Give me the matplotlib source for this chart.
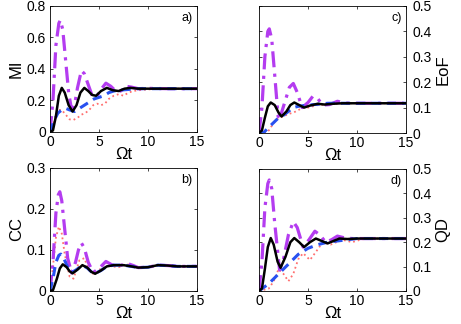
import matplotlib
matplotlib.use("Agg")
import matplotlib.pyplot as plt

plt.rcParams["font.family"] = ["Liberation Sans", "DejaVu Sans"]

# ---------- DATA ----------
# panel a) MI
t_a_purple = [0, 0.3, 0.6, 0.9, 1.05, 1.3, 1.6, 1.9, 2.2, 2.5, 2.8, 3.2, 3.5, 3.9, 4.3, 4.7, 5.2, 5.7, 6.2, 6.7, 7.2, 7.8, 8.3, 9, 10, 12, 15]
a_purple = [0, 0.2, 0.55, 0.69, 0.71, 0.65, 0.45, 0.25, 0.14, 0.17, 0.28, 0.39, 0.37, 0.3, 0.23, 0.22, 0.27, 0.31, 0.29, 0.26, 0.26, 0.29, 0.285, 0.275, 0.277, 0.275, 0.275]
t_a_black = [0, 0.3, 0.6, 0.9, 1.2, 1.5, 1.9, 2.3, 2.7, 3.1, 3.5, 3.9, 4.3, 4.7, 5.2, 5.8, 6.4, 7.0, 7.6, 8.2, 9, 10, 12, 15]
a_black = [0, 0.01, 0.1, 0.23, 0.28, 0.25, 0.17, 0.13, 0.17, 0.25, 0.28, 0.26, 0.235, 0.23, 0.26, 0.28, 0.265, 0.26, 0.275, 0.28, 0.275, 0.275, 0.275, 0.275]
t_a_blue = [0, 0.4, 0.8, 1.2, 1.6, 2.0, 2.5, 3.0, 3.5, 4.0, 4.5, 5.0, 5.5, 6.0, 6.5, 7.0, 8.0, 9.0, 12, 15]
a_blue = [0, 0.07, 0.12, 0.14, 0.15, 0.14, 0.13, 0.15, 0.17, 0.19, 0.21, 0.22, 0.23, 0.25, 0.26, 0.265, 0.27, 0.275, 0.275, 0.275]
t_a_red = [0, 0.3, 0.6, 0.9, 1.2, 1.6, 2.0, 2.4, 2.8, 3.2, 3.6, 4.0, 4.4, 4.8, 5.2, 5.6, 6.0, 6.5, 7.0, 7.5, 8.0, 8.5, 9, 10, 11, 12, 15]
a_red = [0, 0.04, 0.1, 0.14, 0.14, 0.11, 0.08, 0.077, 0.09, 0.11, 0.12, 0.14, 0.17, 0.18, 0.17, 0.18, 0.21, 0.23, 0.24, 0.23, 0.25, 0.26, 0.265, 0.27, 0.275, 0.275, 0.275]

# panel b) CC
t_b_purple = [0, 0.3, 0.6, 0.85, 1.0, 1.2, 1.5, 1.8, 2.2, 2.6, 2.9, 3.2, 3.5, 3.9, 4.4, 5.0, 5.7, 6.3, 6.8, 7.3, 7.8, 8.5, 9, 10, 11, 12, 13, 15]
b_purple = [0, 0.07, 0.19, 0.235, 0.242, 0.22, 0.15, 0.08, 0.044, 0.07, 0.1, 0.117, 0.105, 0.07, 0.045, 0.055, 0.072, 0.064, 0.06, 0.063, 0.068, 0.062, 0.057, 0.058, 0.063, 0.062, 0.06, 0.06]
t_b_black = [0, 0.3, 0.7, 1.0, 1.3, 1.7, 2.0, 2.3, 2.8, 3.3, 3.8, 4.2, 4.6, 5.2, 5.8, 6.5, 7.5, 8.3, 9, 10, 11, 12, 13, 15]
b_black = [0, 0.002, 0.03, 0.055, 0.065, 0.058, 0.048, 0.043, 0.052, 0.063, 0.057, 0.047, 0.042, 0.05, 0.06, 0.063, 0.063, 0.06, 0.057, 0.058, 0.063, 0.062, 0.06, 0.06]
t_b_blue = [0, 0.3, 0.6, 0.9, 1.1, 1.4, 1.8, 2.2, 2.7, 3.3, 3.8, 4.2, 4.6, 5.2, 5.8, 6.5, 7.5, 8.3, 9, 10, 11, 12, 13, 15]
b_blue = [0, 0.03, 0.07, 0.087, 0.09, 0.08, 0.058, 0.045, 0.052, 0.063, 0.056, 0.047, 0.043, 0.05, 0.06, 0.063, 0.063, 0.06, 0.057, 0.058, 0.063, 0.062, 0.06, 0.06]
t_b_red = [0, 0.3, 0.6, 0.9, 1.2, 1.5, 2.0, 2.4, 3.0, 3.5, 4.0, 4.5, 5.0, 5.7, 6.3, 7.0, 7.8, 8.5, 9, 10, 11, 12, 13, 15]
b_red = [0, 0.06, 0.13, 0.157, 0.14, 0.09, 0.035, 0.03, 0.075, 0.08, 0.05, 0.04, 0.05, 0.07, 0.06, 0.058, 0.066, 0.06, 0.057, 0.058, 0.063, 0.062, 0.06, 0.06]

# panel c) EoF
t_c_purple = [0, 0.3, 0.6, 0.9, 1.05, 1.3, 1.6, 1.95, 2.3, 2.7, 3.1, 3.5, 3.9, 4.4, 5.0, 5.5, 6.0, 6.5, 7.2, 8.0, 8.7, 9.5, 12, 15]
c_purple = [0, 0.1, 0.3, 0.4, 0.41, 0.37, 0.23, 0.065, 0.08, 0.13, 0.18, 0.195, 0.16, 0.1, 0.12, 0.145, 0.135, 0.11, 0.112, 0.125, 0.118, 0.117, 0.117, 0.117]
t_c_black = [0, 0.3, 0.6, 0.9, 1.2, 1.6, 2.0, 2.3, 2.8, 3.2, 3.6, 4.1, 4.6, 5.2, 6.0, 6.7, 7.5, 8.5, 10, 15]
c_black = [0, 0.01, 0.06, 0.105, 0.12, 0.11, 0.08, 0.065, 0.085, 0.11, 0.12, 0.11, 0.1, 0.108, 0.115, 0.112, 0.115, 0.117, 0.117, 0.117]
t_c_blue = [0, 0.5, 0.8, 1.2, 1.6, 2.0, 2.5, 3.0, 3.5, 4.0, 5.0, 6.0, 7.0, 8.0, 10, 15]
c_blue = [0, 0.002, 0.015, 0.03, 0.045, 0.06, 0.07, 0.085, 0.1, 0.105, 0.11, 0.113, 0.117, 0.117, 0.117, 0.117]
t_c_red = [0, 0.5, 1.0, 1.5, 2.0, 2.5, 3.0, 3.5, 4.0, 4.5, 5.0, 5.5, 6.0, 7.0, 8.0, 9.0, 10, 15]
c_red = [0, 0.001, 0.01, 0.04, 0.06, 0.065, 0.075, 0.08, 0.09, 0.1, 0.1, 0.105, 0.11, 0.112, 0.115, 0.117, 0.117, 0.117]

# panel d) QD
t_d_purple = [0, 0.3, 0.6, 0.9, 1.05, 1.3, 1.6, 2.1, 2.5, 3.0, 3.5, 3.9, 4.5, 5.1, 5.7, 6.2, 6.8, 7.4, 8.0, 8.7, 9.5, 12, 15]
d_purple = [0, 0.12, 0.34, 0.44, 0.455, 0.42, 0.28, 0.086, 0.13, 0.23, 0.284, 0.26, 0.18, 0.21, 0.245, 0.23, 0.2, 0.21, 0.225, 0.218, 0.215, 0.215, 0.215]
t_d_black = [0, 0.3, 0.6, 0.9, 1.2, 1.5, 1.9, 2.2, 2.7, 3.2, 3.6, 4.1, 4.6, 5.2, 5.8, 6.4, 7.0, 7.6, 8.2, 9, 10, 12, 15]
d_black = [0, 0.01, 0.09, 0.18, 0.217, 0.19, 0.12, 0.095, 0.14, 0.2, 0.217, 0.2, 0.18, 0.2, 0.215, 0.205, 0.195, 0.205, 0.215, 0.213, 0.215, 0.215, 0.215]
t_d_blue = [0, 1.0, 2.0, 3.0, 4.0, 5.0, 6.0, 7.0, 8.0, 9.0, 10, 12, 15]
d_blue = [0, 0.03, 0.07, 0.11, 0.15, 0.175, 0.19, 0.2, 0.205, 0.21, 0.215, 0.215, 0.215]
t_d_red = [0, 0.5, 1.0, 1.5, 2.0, 2.5, 3.0, 3.5, 4.0, 4.5, 5.2, 5.8, 6.5, 7.3, 8.5, 9.5, 10.5, 12, 15]
d_red = [0, 0.005, 0.01, 0.04, 0.09, 0.07, 0.04, 0.07, 0.13, 0.155, 0.127, 0.16, 0.2, 0.19, 0.21, 0.2, 0.212, 0.215, 0.215]

panels = [
    ("a)", "MI", [0, 0.8], [0, 0.2, 0.4, 0.6, 0.8], "left",
     (t_a_black, a_black), (t_a_blue, a_blue), (t_a_red, a_red), (t_a_purple, a_purple)),
    ("b)", "CC", [0, 0.3], [0, 0.1, 0.2, 0.3], "left",
     (t_b_black, b_black), (t_b_blue, b_blue), (t_b_red, b_red), (t_b_purple, b_purple)),
    ("c)", "EoF", [0, 0.5], [0, 0.1, 0.2, 0.3, 0.4, 0.5], "right",
     (t_c_black, c_black), (t_c_blue, c_blue), (t_c_red, c_red), (t_c_purple, c_purple)),
    ("d)", "QD", [0, 0.5], [0, 0.1, 0.2, 0.3, 0.4, 0.5], "right",
     (t_d_black, d_black), (t_d_blue, d_blue), (t_d_red, d_red), (t_d_purple, d_purple)),
]

rects = {
    "a)": [0.1085, 0.5926, 0.319, 0.389],
    "b)": [0.1085, 0.1019, 0.319, 0.3796],
    "c)": [0.5618, 0.5895, 0.319, 0.392],
    "d)": [0.5618, 0.1019, 0.319, 0.3765],
}

fig = plt.figure(figsize=(4.61, 3.24), dpi=100)

for tag, ylab, ylim, yticks, side, blk, blu, red, pur in panels:
    ax = fig.add_axes(rects[tag])
    ax.plot(*red, color="#ff6f6f", ls=":", lw=1.3)
    ax.plot(*pur, color="#b43cf0", ls=(0, (5, 2, 1, 2)), lw=2.3)
    ax.plot(*blu, color="#2850f0", ls=(0, (3, 2)), lw=2.2)
    ax.plot(*blk, color="black", ls="-", lw=1.8)
    ax.set_xlim(0, 15)
    ax.set_ylim(*ylim)
    ax.set_xticks([0, 5, 10, 15])
    ax.set_yticks(yticks)
    ax.set_yticklabels([f"{v:g}" for v in yticks])
    ax.tick_params(direction="in", length=2.5, width=0.5, labelsize=10,
                   top=True, right=True)
    ax.tick_params(axis="x", pad=2)
    ax.tick_params(axis="y", pad=3)
    if side == "right":
        ax.yaxis.tick_right()
        ax.yaxis.set_label_position("right")
        ax.tick_params(axis="y", left=True, pad=5)
    ax.set_ylabel(ylab, fontsize=12, labelpad=2)
    ax.set_xlabel("Ωt", fontsize=12, labelpad=-1)
    ax.text(0.97, 0.95, tag, transform=ax.transAxes, ha="right", va="top",
            fontsize=9)
    for sp in ax.spines.values():
        sp.set_linewidth(0.6)

fig.savefig("out.png", dpi=100)
